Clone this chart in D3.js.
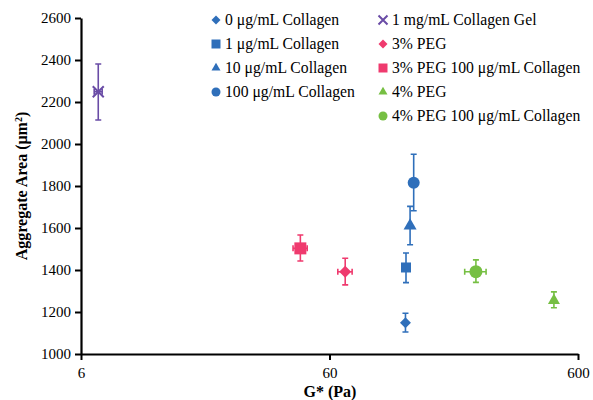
<!DOCTYPE html>
<html>
<head>
<meta charset="utf-8">
<script src="https://cdn.jsdelivr.net/npm/d3@7"></script>
<style>
  body { margin: 0; background: #fff; }
  svg { display: block; }
</style>
</head>
<body>
<div id="chart"></div>
<script>
// Series (order matches legend reading: column 1 then column 2)
var seriesNames = [
  "0 \u03bcg/mL Collagen", "1 \u03bcg/mL Collagen", "10 \u03bcg/mL Collagen", "100 \u03bcg/mL Collagen",
  "1 mg/mL Collagen Gel", "3% PEG", "3% PEG 100 \u03bcg/mL Collagen", "4% PEG", "4% PEG 100 \u03bcg/mL Collagen"
];
var gValues = [121.3, 121.9, 126.6, 130.9, 7.04, 69.4, 45.8, 480, 233];
var gErr = [0, 0, 0, 0, 0.26, 4.6, 3, 0, 23];
var areaValues = [1149, 1412, 1611, 1815, 2249, 1392, 1503, 1255, 1392];
var areaErrUp = [45, 69, 92, 136, 132, 64, 64, 41, 56];
var areaErrDown = [44, 72, 91, 133, 135, 63, 60, 35, 51];
var markerShapes = ["diamond", "square", "triangle", "circle", "x", "diamond", "square", "triangle", "circle"];
var seriesColours = ["#2f6fba", "#2f6fba", "#2f6fba", "#2f6fba", "#6a4ca6", "#ef3a6e", "#ef3a6e", "#76bf43", "#76bf43"];

var xTicks = [6, 60, 600];
var yTicks = [1000, 1200, 1400, 1600, 1800, 2000, 2200, 2400, 2600];

var width = 593, height = 400;
var margin = { top: 18, right: 14, bottom: 46, left: 81 };
var innerW = width - margin.left - margin.right;
var innerH = height - margin.top - margin.bottom;
var font = "'Liberation Serif', 'Times New Roman', serif";

var svg = d3.select("#chart").append("svg")
  .attr("width", width).attr("height", height);

var g = svg.append("g")
  .attr("transform", "translate(" + margin.left + "," + margin.top + ")");

var x = d3.scaleLog().domain([6, 600]).range([0, innerW - 1]);
var y = d3.scaleLinear().domain([1000, 2600]).range([innerH, 0]);

// Axes
var yAxis = d3.axisLeft(y).tickValues(yTicks).tickSize(6).tickSizeOuter(0).tickFormat(d3.format("d"));
g.append("g")
  .call(yAxis)
  .call(function (gg) { gg.select(".domain").attr("stroke", "#000").attr("stroke-width", 2.2); })
  .call(function (gg) { gg.selectAll(".tick line").attr("stroke", "#000").attr("stroke-width", 2); })
  .call(function (gg) {
    gg.selectAll(".tick text").attr("font-family", font).attr("font-size", 15).attr("fill", "#000").attr("x", -10);
  });

var xAxis = d3.axisBottom(x).tickValues(xTicks).tickSize(6).tickSizeOuter(0).tickFormat(d3.format("d"));
g.append("g")
  .attr("transform", "translate(0," + innerH + ")")
  .call(xAxis)
  .call(function (gg) { gg.select(".domain").attr("stroke", "#000").attr("stroke-width", 2.2); })
  .call(function (gg) { gg.selectAll(".tick line").attr("stroke", "#000").attr("stroke-width", 2); })
  .call(function (gg) {
    gg.selectAll(".tick text").attr("font-family", font).attr("font-size", 15).attr("fill", "#000").attr("y", 13);
  });

// Axis titles
svg.append("text")
  .attr("x", margin.left + innerW / 2).attr("y", 397)
  .attr("text-anchor", "middle").attr("font-family", font).attr("font-size", 16).attr("font-weight", 700)
  .text("G* (Pa)");

var yTitle = svg.append("text")
  .attr("transform", "translate(27," + (margin.top + innerH / 2) + ") rotate(-90)")
  .attr("text-anchor", "middle").attr("font-family", font).attr("font-size", 16).attr("font-weight", 700);
yTitle.append("tspan").text("Aggregate Area (\u03bcm");
yTitle.append("tspan").attr("baseline-shift", "super").attr("font-size", 10).text("2");
yTitle.append("tspan").text(")");

function markerPath(shape, s) {
  if (shape === "diamond") return d3.symbol(d3.symbolSquare, s * s / 2)();
  if (shape === "square") return d3.symbol(d3.symbolSquare, s * s)();
  if (shape === "triangle") return d3.symbol(d3.symbolTriangle, Math.sqrt(3) / 4 * s * s)();
  if (shape === "circle") return d3.symbol(d3.symbolCircle, Math.PI * s * s / 4)();
  var h = s / 2;
  return "M" + (-h) + "," + (-h) + "L" + h + "," + h + "M" + (-h) + "," + h + "L" + h + "," + (-h);
}
function drawMarker(sel, i, s) {
  var shape = markerShapes[i];
  var p = sel.append("path").attr("d", markerPath(shape, s));
  if (shape === "diamond") p.attr("transform", "rotate(45)");
  if (shape === "x") {
    p.attr("fill", "none").attr("stroke", seriesColours[i]).attr("stroke-width", 2);
  } else {
    p.attr("fill", seriesColours[i]);
  }
  return p;
}

var idx = d3.range(seriesNames.length);
var cap = 3;

// Error bars
var eb = g.selectAll(".err").data(idx).join("g").attr("class", "err")
  .attr("stroke", function (i) { return seriesColours[i]; })
  .attr("stroke-width", 1.6).attr("fill", "none");
eb.append("line")
  .attr("x1", function (i) { return x(gValues[i]); }).attr("x2", function (i) { return x(gValues[i]); })
  .attr("y1", function (i) { return y(areaValues[i] + areaErrUp[i]); })
  .attr("y2", function (i) { return y(areaValues[i] - areaErrDown[i]); });
eb.append("path").attr("d", function (i) {
  var cx = x(gValues[i]), t = y(areaValues[i] + areaErrUp[i]), b = y(areaValues[i] - areaErrDown[i]);
  return "M" + (cx - cap) + "," + t + "H" + (cx + cap) + "M" + (cx - cap) + "," + b + "H" + (cx + cap);
});
eb.filter(function (i) { return gErr[i] > 0; }).append("path").attr("d", function (i) {
  var cy = y(areaValues[i]), l = x(gValues[i] - gErr[i]), r = x(gValues[i] + gErr[i]);
  return "M" + l + "," + cy + "H" + r + "M" + l + "," + (cy - cap) + "V" + (cy + cap) +
    "M" + r + "," + (cy - cap) + "V" + (cy + cap);
});

// Markers
var markerSizes = [11, 10, 13, 12, 11, 12, 12, 12, 13];
idx.forEach(function (i) {
  var mg = g.append("g").attr("transform", "translate(" + x(gValues[i]) + "," + y(areaValues[i]) + ")");
  drawMarker(mg, i, markerSizes[i]);
});

// Legend: two columns
var legendCols = [[0, 1, 2, 3], [4, 5, 6, 7, 8]];
var legendX = [216, 383];
var legendY0 = 20, legendStep = 24;
legendCols.forEach(function (col, c) {
  col.forEach(function (i, r) {
    var ly = legendY0 + r * legendStep;
    var lg = svg.append("g").attr("transform", "translate(" + legendX[c] + "," + ly + ")");
    drawMarker(lg, i, 9);
    svg.append("text")
      .attr("x", legendX[c] + 9).attr("y", ly + 5)
      .attr("font-family", font).attr("font-size", 15.7).attr("fill", "#000")
      .text(seriesNames[i]);
  });
});
</script>
</body>
</html>
